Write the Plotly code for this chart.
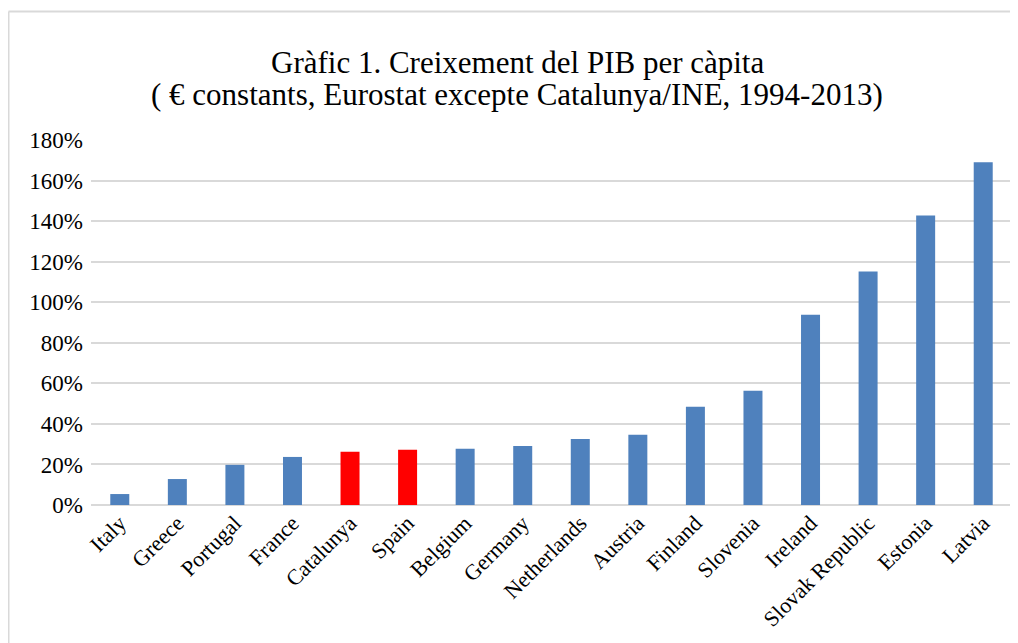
import plotly.graph_objects as go

countries = ["Italy", "Greece", "Portugal", "France", "Catalunya", "Spain", "Belgium",
             "Germany", "Netherlands", "Austria", "Finland", "Slovenia", "Ireland",
             "Slovak Republic", "Estonia", "Latvia"]
growth = [0.054, 0.128, 0.198, 0.237, 0.262, 0.272, 0.277, 0.291, 0.326, 0.346,
          0.484, 0.563, 0.938, 1.151, 1.428, 1.690]
highlight = ["Catalunya", "Spain"]
colors = ["#ff0000" if c in highlight else "#4f81bd" for c in countries]
y_ticks = [0, 0.2, 0.4, 0.6, 0.8, 1.0, 1.2, 1.4, 1.6, 1.8]
title_lines = ["Gràfic 1. Creixement del PIB per càpita",
               "( € constants, Eurostat excepte Catalunya/INE, 1994-2013)"]

FONT = "Liberation Serif, Times New Roman, serif"

fig = go.Figure(go.Bar(x=countries, y=growth, marker=dict(color=colors, line=dict(width=0)),
                       width=0.33))

# page has an 8px body margin; figure drawn at (8, 8)
OFF = 8
W, H = 1018 - OFF, 643 - OFF
L = 91 - OFF
R = W + OFF - 1012
T = 140 - OFF
B = (H + OFF) - 505
pw, ph = W - L - R, H - T - B
bx = (8.5 - OFF - L) / pw
by = (H - B - (11.5 - OFF)) / ph


def page_y(py):
    return (505 - py) / ph


title_x = ((W + OFF) / 2 - OFF - L + 8) / pw
annotations = [
    dict(text=title_lines[0], xref="paper", yref="paper", x=title_x, y=page_y(62),
         xanchor="center", yanchor="middle", showarrow=False,
         font=dict(size=31, family=FONT, color="#000000")),
    dict(text=title_lines[1], xref="paper", yref="paper", x=title_x, y=page_y(95),
         xanchor="center", yanchor="middle", showarrow=False,
         font=dict(size=31, family=FONT, color="#000000")),
]

fig.update_layout(
    width=W, height=H,
    margin=dict(l=L, r=R, t=T, b=B),
    paper_bgcolor="white", plot_bgcolor="white",
    font=dict(family=FONT, color="#000000"),
    annotations=annotations,
    xaxis=dict(tickangle=-45, tickfont=dict(size=22, family=FONT), showgrid=False,
               showline=False, ticks="", range=[-0.5, 15.5]),
    yaxis=dict(range=[0, 1.8], tickvals=y_ticks, tickformat=".0%", tickfont=dict(size=23, family=FONT),
               showgrid=True, gridcolor="#d9d9d9", gridwidth=2, zeroline=True,
               zerolinecolor="#d9d9d9", zerolinewidth=2, ticks="", ticklabelstandoff=7),
    showlegend=False,
    shapes=[
        dict(type="line", xref="paper", yref="paper", x0=bx, x1=bx, y0=-1, y1=by,
             line=dict(color="#d9d9d9", width=2)),
        dict(type="line", xref="paper", yref="paper", x0=bx, x1=1.2, y0=by, y1=by,
             line=dict(color="#d9d9d9", width=2)),
    ],
)

fig.write_html(
    "out.html",
    config={"displayModeBar": False},
    post_script="document.documentElement.style.overflow='hidden';document.body.style.overflow='hidden';",
)
